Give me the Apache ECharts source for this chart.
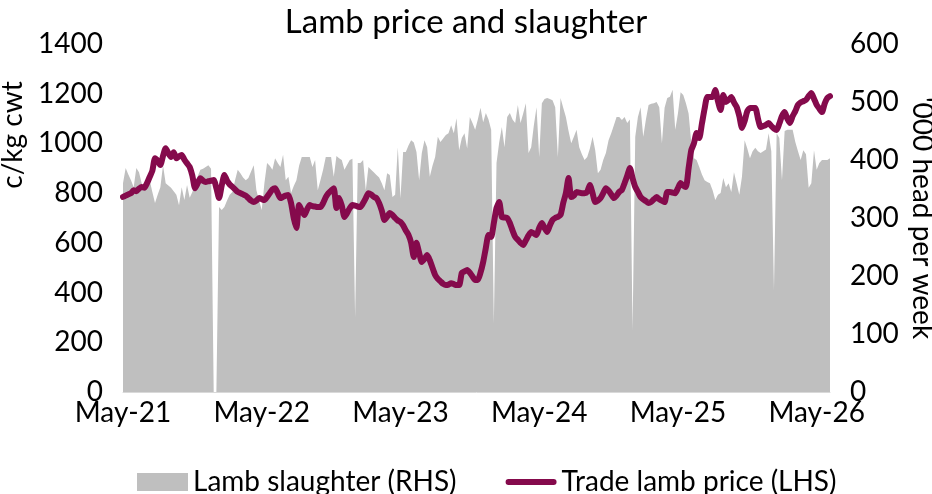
<!DOCTYPE html>
<html>
<head>
<meta charset="utf-8">
<script src="https://cdn.jsdelivr.net/npm/echarts@6/dist/echarts.min.js"></script>
<style>
  html, body { margin: 0; padding: 0; background: #fff; }
  #chart { width: 932px; height: 494px; }
</style>
</head>
<body>
<div id="chart"></div>
<script>
// weekly series, first week ending 7 May 2021
const startDate = '2021-05-07';
const weekCount = 266;
const tickLabels = ['May-21', 'May-22', 'May-23', 'May-24', 'May-25', 'May-26'];

// Trade lamb price, c/kg cwt (LHS)
const lambPrice = [
  785, 790, 795, 800, 812, 808, 818, 825, 822, 840,
  865, 890, 940, 930, 913, 950, 981, 960, 945, 965,
  940, 948, 953, 935, 920, 905, 870, 820, 840, 860,
  850, 845, 848, 850, 853, 820, 780, 830, 873, 850,
  835, 825, 815, 805, 800, 795, 790, 780, 770, 764,
  770, 780, 776, 772, 785, 800, 815, 820, 800, 780,
  785, 790, 793, 760, 700, 660, 752, 730, 712, 735,
  752, 748, 746, 744, 744, 760, 784, 800, 810, 820,
  740, 780, 750, 704, 720, 740, 752, 750, 746, 744,
  760, 780, 800, 795, 785, 780, 760, 730, 692, 705,
  720, 712, 700, 690, 684, 670, 650, 632, 600, 543,
  600, 560, 523, 535, 551, 530, 500, 471, 455, 445,
  435, 430, 432, 438, 434, 430, 430, 479, 485, 491,
  480, 465, 451, 451, 480, 523, 580, 632, 624, 680,
  740, 764, 704, 702, 700, 680, 650, 624, 612, 600,
  591, 610, 630, 644, 638, 632, 660, 680, 660, 644,
  670, 692, 700, 705, 712, 760, 800, 861, 784, 790,
  805, 802, 800, 800, 805, 833, 800, 764, 770, 780,
  800, 820, 810, 795, 780, 790, 805, 813, 840, 870,
  901, 860, 825, 805, 784, 775, 768, 760, 765, 775,
  784, 775, 770, 764, 805, 805, 802, 800, 820, 841,
  830, 825, 900, 973, 1000, 1042, 1022, 1080, 1140, 1187,
  1187, 1187, 1215, 1170, 1134, 1195, 1167, 1175, 1187, 1165,
  1147, 1110, 1062, 1090, 1130, 1143, 1143, 1143, 1100, 1066,
  1070, 1075, 1082, 1070, 1060, 1054, 1080, 1110, 1126, 1100,
  1082, 1110, 1130, 1155, 1165, 1170, 1175, 1190, 1203, 1180,
  1155, 1140, 1126, 1160, 1183, 1190
];

// Lamb slaughter, '000 head per week (RHS)
const lambSlaughter = [
  360, 386, 375, 365, 353, 386, 379, 360, 348, 355,
  365, 345, 326, 340, 353, 391, 360, 356, 352, 346,
  340, 322, 353, 331, 357, 335, 345, 360, 372, 383,
  385, 388, 391, 385, 0, 0, 319, 314, 319, 330,
  340, 345, 365, 383, 377, 370, 365, 369, 380, 391,
  348, 330, 314, 360, 395, 390, 383, 403, 395, 388,
  409, 365, 371, 343, 355, 365, 390, 405, 405, 405,
  405, 388, 400, 348, 365, 383, 405, 405, 405, 371,
  407, 403, 400, 383, 392, 400, 402, 129, 395, 395,
  400, 348, 388, 383, 379, 374, 370, 360, 348, 377,
  374, 336, 340, 422, 334, 414, 414, 425, 434, 430,
  414, 365, 412, 434, 422, 371, 390, 405, 440, 431,
  437, 443, 446, 460, 446, 472, 417, 438, 446, 420,
  474, 464, 452, 470, 490, 465, 481, 470, 452, 119,
  395, 430, 457, 422, 474, 481, 470, 464, 495, 464,
  480, 498, 412, 422, 460, 491, 405, 498, 505, 507,
  505, 503, 491, 405, 507, 490, 474, 450, 429, 440,
  452, 422, 410, 400, 405, 420, 440, 417, 377, 383,
  400, 412, 434, 446, 460, 474, 474, 469, 474, 464,
  470, 107, 440, 474, 491, 440, 470, 495, 497, 498,
  500, 491, 429, 490, 507, 509, 521, 452, 480, 517,
  512, 498, 480, 430, 403, 400, 388, 375, 365, 362,
  360, 348, 331, 340, 343, 369, 353, 360, 345, 379,
  360, 340, 371, 434, 420, 403, 415, 421, 415, 412,
  415, 418, 446, 415, 176, 446, 438, 365, 450, 452,
  452, 452, 431, 415, 400, 417, 410, 352, 360, 417,
  383, 395, 400, 400, 400, 403
];

const weeks = [];
const d0 = new Date(startDate + 'T00:00:00Z');
for (let i = 0; i < weekCount; i++) {
  const d = new Date(d0.getTime() + i * 7 * 86400000);
  weeks.push(d.toISOString().slice(0, 10));
}

const FONT = 'Lato, "Noto Sans", sans-serif';
const PRICE_COLOR = '#850a4c';
const AREA_COLOR = '#bfbfbf';
const chart = echarts.init(document.getElementById('chart'));

const option = {
  animation: false,
  textStyle: { fontFamily: FONT, color: '#000' },
  title: {
    text: 'Lamb price and slaughter',
    left: 'center',
    top: 1,
    textStyle: { fontFamily: FONT, fontSize: 33, fontWeight: 'normal', color: '#000' },
  },
  grid: { left: 123, right: 102, top: 44, bottom: 102, containLabel: false, outerBoundsMode: 'none' },
  legend: {
    top: 463,
    left: 132,
    itemWidth: 51,
    itemHeight: 18,
    itemGap: 49,
    textStyle: { fontFamily: FONT, fontSize: 28, color: '#000' },
    data: [
      { name: 'Lamb slaughter (RHS)', icon: 'rect' },
      { name: 'Trade lamb price (LHS)', icon: 'path://M3,0 L48,0 A3,3 0 0 1 48,6 L3,6 A3,3 0 0 1 3,0 Z' },
    ],
  },
  xAxis: {
    type: 'category',
    data: weeks,
    boundaryGap: false,
    axisTick: { show: false },
    axisLine: { lineStyle: { color: '#d9d9d9', width: 1 } },
    axisLabel: {
      interval: (i) => i % 52 === 0,
      formatter: (v, i) => tickLabels[Math.round(i / 52)],
      fontFamily: FONT,
      fontSize: 28,
      color: '#000',
      margin: 7,
    },
    splitLine: { show: false },
  },
  yAxis: [
    {
      type: 'value',
      min: 0,
      max: 1400,
      interval: 200,
      name: 'c/kg cwt',
      nameLocation: 'middle',
      nameRotate: 90,
      nameGap: 90,
      nameTextStyle: { fontFamily: FONT, fontSize: 28, color: '#000', padding: [0, 0, 0, 166] },
      axisLine: { show: false },
      axisTick: { show: false },
      splitLine: { show: false },
      axisLabel: { fontFamily: FONT, fontSize: 28, color: '#000', margin: 20, formatter: (v) => String(v) },
    },
    {
      type: 'value',
      min: 0,
      max: 600,
      interval: 100,
      name: "'000 head per week",
      nameLocation: 'middle',
      nameRotate: -90,
      nameGap: 78,
      nameMoveOverlap: false,
      nameTextStyle: { fontFamily: FONT, fontSize: 28, color: '#000' },
      axisLine: { show: false },
      axisTick: { show: false },
      splitLine: { show: false },
      axisLabel: { fontFamily: FONT, fontSize: 28, color: '#000', margin: 20, formatter: (v) => String(v) },
    },
  ],
  series: [
    {
      name: 'Lamb slaughter (RHS)',
      type: 'line',
      yAxisIndex: 1,
      data: lambSlaughter,
      symbol: 'none',
      color: AREA_COLOR,
      lineStyle: { width: 0 },
      areaStyle: { color: AREA_COLOR, opacity: 1 },
      z: 1,
    },
    {
      name: 'Trade lamb price (LHS)',
      type: 'line',
      yAxisIndex: 0,
      data: lambPrice,
      symbol: 'none',
      smooth: 0.2,
      color: PRICE_COLOR,
      lineStyle: { width: 6, color: PRICE_COLOR, cap: 'round', join: 'round' },
      z: 3,
    },
  ],
};

chart.setOption(option);
</script>
</body>
</html>
